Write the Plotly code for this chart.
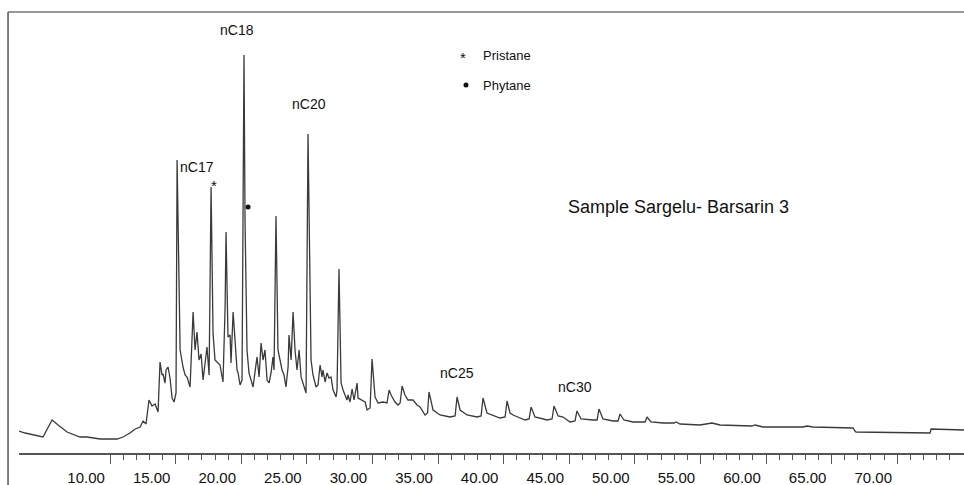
import plotly.graph_objects as go

# Retention time (min) and detector response (arbitrary units)
rt = [3.06, 3.52, 4.89, 5.58, 6.04, 6.72, 7.71, 8.25, 9.24, 10.53, 10.99, 11.52, 11.91, 12.29,
      12.52, 12.74, 12.97, 13.20, 13.43, 13.66, 13.81, 13.96, 14.04, 14.19, 14.27, 14.42, 14.57,
      14.73, 14.88, 15.03, 15.11, 15.34, 15.56, 15.72, 15.87, 16.10, 16.33, 16.48, 16.63, 16.78,
      16.94, 17.09, 17.39, 17.55, 17.70, 17.85, 18.00, 18.16, 18.38, 18.61, 18.77, 18.84, 18.99,
      19.15, 19.22, 19.38, 19.53, 19.68, 19.76, 19.91, 20.06, 20.21, 20.29, 20.44, 20.59, 20.82,
      20.90, 21.20, 21.36, 21.51, 21.66, 21.81, 21.97, 22.12, 22.27, 22.42, 22.50, 22.65, 22.80,
      23.11, 23.26, 23.41, 23.57, 23.64, 23.80, 23.95, 24.10, 24.25, 24.41, 24.56, 24.71, 24.94,
      25.09, 25.32, 25.47, 25.70, 25.85, 26.01, 26.16, 26.23, 26.39, 26.54, 26.69, 26.84, 27.00,
      27.23, 27.30, 27.45, 27.61, 27.76, 28.06, 28.14, 28.29, 28.45, 28.60, 28.83, 28.90, 29.21,
      29.44, 29.59, 29.82, 29.97, 30.20, 30.43, 30.81, 31.11, 31.27, 31.42, 31.72, 31.95, 32.11,
      32.26, 32.48, 32.71, 33.09, 33.40, 33.63, 34.01, 34.20, 34.31, 34.62, 35.15, 35.91, 36.30,
      36.45, 36.68, 37.21, 37.97, 38.28, 38.43, 38.73, 39.72, 40.11, 40.26, 40.49, 40.72, 41.63,
      41.94, 42.09, 42.39, 43.31, 43.69, 43.84, 44.15, 44.53, 45.06, 45.44, 45.59, 45.90, 46.81,
      47.12, 47.27, 47.57, 48.34, 48.72, 48.87, 49.17, 49.86, 50.78, 50.93, 51.23, 52.15, 52.99,
      53.14, 53.45, 54.97, 55.88, 56.49, 58.93, 59.16, 59.77, 62.82, 63.12, 63.58, 66.63, 66.78,
      66.86, 72.50, 72.58, 75.09]
abundance = [22, 20, 16, 33, 28, 21, 16, 16, 14, 14, 16, 20, 24, 26,
             32, 29, 53, 47, 49, 41, 91, 78, 79, 70, 83, 86, 75,
             55, 51, 60, 293, 103, 86, 78, 76, 66, 141, 103, 121, 93,
             99, 73, 106, 78, 266, 120, 93, 91, 88, 71, 146, 221, 116,
             118, 90, 141, 110, 83, 80, 68, 73, 398, 231, 103, 80, 70,
             66, 96, 76, 110, 93, 103, 73, 70, 80, 96, 83, 237, 103,
             83, 78, 66, 86, 118, 93, 141, 103, 83, 103, 76, 70, 60,
             319, 93, 78, 66, 68, 88, 76, 83, 71, 80, 75, 76, 63,
             56, 63, 184, 70, 63, 53, 58, 51, 64, 53, 70, 55, 53,
             51, 43, 45, 94, 56, 50, 51, 50, 63, 58, 51, 48, 50,
             67, 58, 53, 53, 48, 46, 38, 40, 61, 43, 38, 36, 37,
             56, 43, 38, 36, 37, 55, 40, 35, 36, 52, 40, 38, 33,
             34, 46, 36, 33, 34, 47, 37, 36, 31, 32, 42, 34, 33,
             33, 44, 34, 32, 32, 39, 33, 31, 31, 36, 31, 30, 30,
             31, 29, 28, 30, 28, 27, 28, 26, 26, 27, 26, 25, 22,
             21, 20, 24, 23]

major_ticks = [10, 15, 20, 25, 30, 35, 40, 45, 50, 55, 60, 65, 70]
major_labels = ["10.00", "15.00", "20.00", "25.00", "30.00", "35.00", "40.00",
                "45.00", "50.00", "55.00", "60.00", "65.00", "70.00"]
minor_ticks = [m for m in range(11, 75) if m % 5 != 0]

# Peak labels: (text, retention time, height)
peak_labels = [("nC18", 19.68, 423), ("nC17", 16.63, 286), ("nC20", 25.17, 349),
               ("nC25", 36.45, 80), ("nC30", 45.44, 66)]
pristane_mark = ("*", 17.93, 268)
phytane_mark = (20.52, 246)

FONT = "Liberation Sans, Arial, sans-serif"
INK = "#111111"

fig = go.Figure()
fig.add_trace(go.Scatter(x=rt, y=abundance, mode="lines",
                         line=dict(color="#3a3a3a", width=1.3),
                         hoverinfo="x+y", showlegend=False))
# phytane dot marker
fig.add_trace(go.Scatter(x=[phytane_mark[0]], y=[phytane_mark[1]], mode="markers",
                         marker=dict(color=INK, size=5), showlegend=False,
                         hoverinfo="skip"))

for txt, xv, yv in peak_labels:
    fig.add_annotation(x=xv, y=yv, text=txt, showarrow=False,
                       font=dict(family=FONT, size=14, color=INK))
fig.add_annotation(x=pristane_mark[1], y=pristane_mark[2], text=pristane_mark[0],
                   showarrow=False, font=dict(family=FONT, size=15, color=INK))

# key
fig.add_annotation(x=36.90, y=396, text="*", showarrow=False,
                   font=dict(family=FONT, size=15, color=INK))
fig.add_annotation(x=38.28, y=398, text="Pristane", showarrow=False, xanchor="left",
                   font=dict(family=FONT, size=13, color=INK))
fig.add_trace(go.Scatter(x=[37.13], y=[368], mode="markers",
                         marker=dict(color=INK, size=5), showlegend=False,
                         hoverinfo="skip"))
fig.add_annotation(x=38.28, y=368, text="Phytane", showarrow=False, xanchor="left",
                   font=dict(family=FONT, size=13, color=INK))

fig.add_annotation(x=44.76, y=246, text="Sample Sargelu- Barsarin 3", showarrow=False,
                   xanchor="left", font=dict(family=FONT, size=18, color=INK))

# frame lines (left and top)
fig.add_shape(type="line", xref="paper", yref="paper", x0=-0.0116, x1=1.0, y0=1.0, y1=1.0,
              line=dict(color="#777777", width=1.5))
fig.add_shape(type="line", xref="paper", yref="paper", x0=-0.0116, x1=-0.0116, y0=1.0, y1=-0.08,
              line=dict(color="#555555", width=1.5))

fig.update_layout(
    width=964, height=485,
    margin=dict(l=19, r=0, t=12, b=32),
    plot_bgcolor="white", paper_bgcolor="white",
    xaxis=dict(range=[3.06, 75.09], showgrid=False, zeroline=False,
               showline=True, linecolor="#555555", linewidth=1.5,
               tickmode="array", tickvals=major_ticks, ticktext=major_labels,
               ticks="outside", ticklen=9, tickwidth=1.2, tickcolor="#555555",
               ticklabelshift=-24, ticklabelstandoff=1,
               tickfont=dict(family=FONT, size=15, color=INK),
               minor=dict(tickmode="array", tickvals=minor_ticks, ticks="outside",
                          ticklen=5, tickwidth=1, tickcolor="#555555", showgrid=False)),
    yaxis=dict(range=[0, 441], visible=False, showgrid=False, zeroline=False),
)

fig.write_html("out.html", config={"displayModeBar": False},
               post_script="document.body.style.margin='0px';document.body.style.overflow='hidden';")
